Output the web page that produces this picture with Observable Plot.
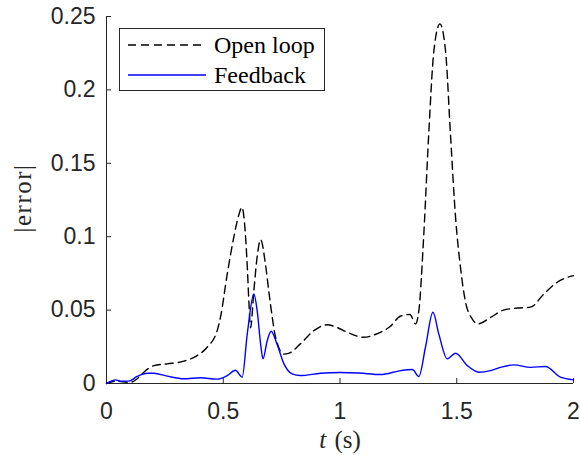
<!DOCTYPE html>
<html><head><meta charset="utf-8">
<script src="https://cdn.jsdelivr.net/npm/d3@7"></script>
<script src="https://cdn.jsdelivr.net/npm/@observablehq/plot@0.6"></script>
<style>
body{margin:0;background:#fff}
#wrap{position:relative;width:580px;height:455px}
#legend{position:absolute;left:119px;top:28px;width:206px;height:63px;border:1px solid #262626;background:#fff;box-sizing:border-box;font-family:"Liberation Serif","Times New Roman",serif;font-size:24px;color:#000}
.row{position:absolute;left:8px;display:flex;align-items:center;height:28px}
.row svg{display:block;margin-right:8px}
</style>
</head><body><div id="wrap"></div>
<script>
const seriesNames = ["Open loop", "Feedback"];
const tOpen = [0, 0.04, 0.1, 0.131, 0.16, 0.203, 0.26, 0.331, 0.388, 0.431, 0.474, 0.488, 0.517, 0.545, 0.567, 0.58, 0.6025, 0.61, 0.617, 0.631, 0.645, 0.66, 0.681, 0.695, 0.71, 0.724, 0.76, 0.78, 0.83, 0.888, 0.945, 0.99, 1.03, 1.10, 1.16, 1.216, 1.26, 1.30, 1.323, 1.338, 1.359, 1.38, 1.402, 1.428, 1.452, 1.473, 1.495, 1.516, 1.537, 1.566, 1.59, 1.645, 1.70, 1.76, 1.816, 1.873, 1.93, 2.0];
const eOpen = [0, 0.0016, 0.0007, 0.0032, 0.0077, 0.0122, 0.0134, 0.0152, 0.019, 0.0247, 0.036, 0.045, 0.0745, 0.0995, 0.115, 0.12, 0.081, 0.055, 0.038, 0.063, 0.086, 0.098, 0.081, 0.063, 0.045, 0.0315, 0.020, 0.0205, 0.027, 0.036, 0.040, 0.038, 0.035, 0.0315, 0.034, 0.039, 0.046, 0.047, 0.0406, 0.050, 0.102, 0.17, 0.2265, 0.245, 0.2265, 0.17, 0.113, 0.079, 0.056, 0.044, 0.0406, 0.045, 0.05, 0.0514, 0.052, 0.061, 0.069, 0.0735];
const tFb = [0, 0.039, 0.06, 0.096, 0.131, 0.174, 0.203, 0.26, 0.331, 0.403, 0.474, 0.517, 0.552, 0.581, 0.603, 0.631, 0.645, 0.66, 0.67, 0.688, 0.705, 0.73, 0.76, 0.795, 0.83, 0.917, 1.0, 1.08, 1.173, 1.26, 1.31, 1.338, 1.366, 1.398, 1.423, 1.459, 1.495, 1.545, 1.595, 1.645, 1.688, 1.744, 1.816, 1.88, 1.944, 2.0];
const eFb = [0, 0.0025, 0.0016, 0.0016, 0.0048, 0.007, 0.007, 0.005, 0.0032, 0.0039, 0.003, 0.0054, 0.009, 0.0043, 0.034, 0.061, 0.05, 0.027, 0.0168, 0.029, 0.0356, 0.027, 0.0134, 0.0066, 0.0054, 0.007, 0.0075, 0.0072, 0.0061, 0.0088, 0.0095, 0.0048, 0.0247, 0.0485, 0.0338, 0.0168, 0.0206, 0.0122, 0.0077, 0.0088, 0.011, 0.0127, 0.011, 0.0116, 0.0043, 0.0025];
const xTicks = [0, 0.5, 1, 1.5, 2];
const yTicks = [0, 0.05, 0.1, 0.15, 0.2, 0.25];
const xLabel = "t (s)";
const yLabel = "|error|";

const open = tOpen.map((t, i) => ({t, e: eOpen[i]}));
const fb = tFb.map((t, i) => ({t, e: eFb[i]}));
const axisColor = "#262626";

const chart = Plot.plot({
  width: 580, height: 455,
  marginLeft: 106, marginRight: 7, marginTop: 16, marginBottom: 72,
  x: {domain: [0, 2]},
  y: {domain: [0, 0.25]},
  style: {fontFamily: "'Liberation Sans', Arial, sans-serif", fontSize: "23px", color: axisColor, background: "#fff", overflow: "visible"},
  marks: [
    Plot.axisX({ticks: xTicks, tickSize: -5, text: null, stroke: axisColor, label: null}),
    Plot.axisX({ticks: xTicks, tickSize: 0, tickPadding: 19, tickFormat: d => String(d), fill: axisColor, label: null}),
    Plot.axisY({ticks: yTicks, tickSize: -5, text: null, stroke: axisColor, label: null}),
    Plot.axisY({ticks: yTicks, tickSize: 0, tickPadding: 11, tickFormat: d => String(d), fill: axisColor, label: null}),
    Plot.ruleY([0], {stroke: axisColor, strokeWidth: 1}),
    Plot.ruleX([0], {stroke: axisColor, strokeWidth: 1}),
    Plot.line(open, {x: "t", y: "e", stroke: "#000", strokeWidth: 1.4, strokeDasharray: "8,5", curve: "monotone-x"}),
    Plot.line(fb, {x: "t", y: "e", stroke: "#0000ff", strokeWidth: 1.4, curve: "monotone-x"})
  ]
});

const wrap = document.getElementById("wrap");
wrap.appendChild(chart);

// axis labels as SVG text
const svg = d3.select(chart);
const xl = svg.append("text")
  .attr("x", 340).attr("y", 448)
  .attr("text-anchor", "middle")
  .style("font-family", "'Liberation Serif','Times New Roman',serif")
  .style("font-size", "25px").style("fill", axisColor).style("word-spacing", "2px");
xl.append("tspan").style("font-style", "italic").text(xLabel.split(" ")[0]);
xl.append("tspan").text(" " + xLabel.split(" ").slice(1).join(" "));

svg.append("text")
  .attr("transform", "translate(31,198) rotate(-90)")
  .attr("text-anchor", "middle")
  .style("font-family", "'Liberation Serif','Times New Roman',serif")
  .style("font-size", "25px").style("letter-spacing", "1.5px").style("fill", axisColor)
  .text(yLabel);

// legend
const legend = document.createElement("div");
legend.id = "legend";
const styles = [{stroke: "#000", dash: "8,5"}, {stroke: "#0000ff", dash: null}];
seriesNames.forEach((name, i) => {
  const row = document.createElement("div");
  row.className = "row";
  row.style.top = (i === 0 ? 2 : 32) + "px";
  const s = d3.create("svg").attr("width", 78).attr("height", 10);
  s.append("line").attr("x1", 0).attr("x2", i === 0 ? 76 : 78).attr("y1", 5).attr("y2", 5)
    .attr("stroke", styles[i].stroke).attr("stroke-width", 1.3)
    .attr("stroke-dasharray", styles[i].dash);
  row.appendChild(s.node());
  const span = document.createElement("span");
  span.textContent = name;
  row.appendChild(span);
  legend.appendChild(row);
});
wrap.appendChild(legend);
</script>
</body></html>
